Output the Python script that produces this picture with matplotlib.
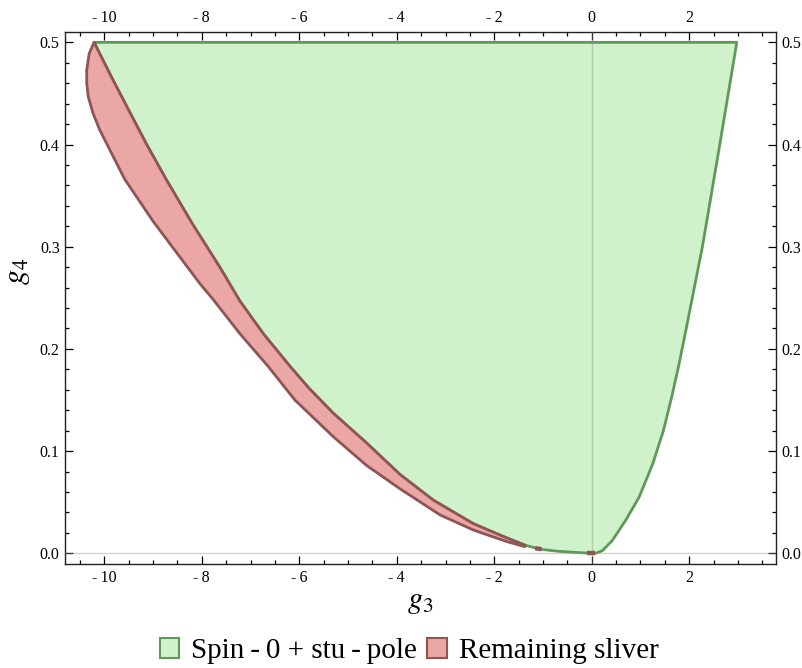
import matplotlib
matplotlib.use("Agg")
import matplotlib.pyplot as plt
from matplotlib.patches import Patch
from matplotlib.ticker import MultipleLocator, FuncFormatter
import numpy as np

# boundary of the green region on the left (tip -> origin)
inner_g3 = [-10.21, -9.82, -9.47, -9.13, -8.72, -8.20, -7.63, -7.22, -6.74, -6.19,
            -5.81, -5.30, -4.62, -3.93, -3.25, -2.43, -1.74, -1.37, -1.06, -0.70,
            -0.38, 0.0]
inner_g4 = [0.500, 0.463, 0.431, 0.400, 0.365, 0.323, 0.280, 0.247, 0.215, 0.183,
            0.162, 0.137, 0.108, 0.077, 0.052, 0.029, 0.015, 0.008, 0.004, 0.002,
            0.001, 0.0]

# right boundary of the green region (origin -> top)
right_g3 = [0.0, 0.08, 0.22, 0.42, 0.70, 0.97, 1.25, 1.47, 1.64, 1.79, 1.93,
            2.27, 2.63, 2.975]
right_g4 = [0.0, 0.0, 0.0026, 0.0124, 0.0326, 0.0548, 0.0874, 0.120, 0.153,
            0.185, 0.218, 0.300, 0.401, 0.500]

# outer edge of the red sliver (tip -> pinch)
outer_g3 = [-10.21, -10.31, -10.36, -10.36, -10.33, -10.23, -10.09, -9.92, -9.75,
            -9.58, -9.00, -8.45, -8.04, -7.76, -7.22, -6.64, -6.09, -5.30, -4.62,
            -3.93, -3.11, -2.43, -1.74, -1.37]
outer_g4 = [0.500, 0.489, 0.473, 0.460, 0.447, 0.4305, 0.414, 0.398, 0.382,
            0.366, 0.325, 0.290, 0.264, 0.248, 0.215, 0.183, 0.150, 0.114, 0.086,
            0.063, 0.0375, 0.0228, 0.0114, 0.0065]

# tiny red bits left on the lower green edge
bit1_g3 = [-1.16, -1.03]
bit1_g4 = [0.0050, 0.0040]
bit2_g3 = [-0.10, 0.07]
bit2_g4 = [0.0, 0.0]

labels = ["Spin\u2009-\u20090 + stu\u2009-\u2009pole", "Remaining sliver"]

green_fc = "#cff2ca"
green_ec = "#5f995a"
red_fc = "#eba6a6"
red_ec = "#8f5454"

plt.rcParams["font.family"] = ["Liberation Serif", "DejaVu Serif"]
plt.rcParams["mathtext.fontset"] = "stix"
plt.rcParams["axes.unicode_minus"] = False

fig = plt.figure(figsize=(8.02, 6.68), dpi=100)
ax = fig.add_axes([0.0814, 0.1552, 0.8862, 0.7973])

# green region: inner curve down to origin, right curve up, closes along g4=0.5
gx = inner_g3 + right_g3[1:]
gy = inner_g4 + right_g4[1:]
ax.fill(gx, gy, facecolor=green_fc, edgecolor=green_ec, lw=2.0, zorder=2,
        joinstyle="round")

# red sliver: inner curve down to the pinch, back up along outer curve
k = inner_g3.index(-1.37) + 1
rx = inner_g3[:k] + outer_g3[::-1]
ry = inner_g4[:k] + outer_g4[::-1]
ax.fill(rx, ry, facecolor=red_fc, edgecolor=red_ec, lw=2.0, zorder=4,
        joinstyle="round")

ax.plot(bit1_g3, bit1_g4, color=red_ec, lw=3.2, solid_capstyle="butt", zorder=5)
ax.plot(bit2_g3, bit2_g4, color=red_ec, lw=3.2, solid_capstyle="butt", zorder=5)

# light zero lines
ax.axhline(0, color="0.55", alpha=0.4, lw=1.0, zorder=3)
ax.axvline(0, color="0.55", alpha=0.4, lw=1.0, zorder=3)

ax.set_xlim(-10.80, 3.78)
ax.set_ylim(-0.0108, 0.5104)

ax.xaxis.set_major_locator(MultipleLocator(2))
ax.xaxis.set_minor_locator(MultipleLocator(0.5))
ax.yaxis.set_major_locator(MultipleLocator(0.1))
ax.yaxis.set_minor_locator(MultipleLocator(0.02))

def fmt_x(v, pos):
    if v < 0:
        return "-\u2009%d" % round(abs(v))
    return "%d" % round(v)

ax.xaxis.set_major_formatter(FuncFormatter(fmt_x))
ax.yaxis.set_major_formatter(FuncFormatter(lambda v, p: "%.1f" % abs(v)))

ax.tick_params(which="both", direction="in", top=True, right=True,
               labeltop=True, labelright=True, labelsize=11.5, colors="black",
               width=0.9)
ax.tick_params(which="major", length=5.5, pad=4)
ax.tick_params(which="minor", length=3)
for s in ax.spines.values():
    s.set_linewidth(1.0)
    s.set_color("#222222")

ax.set_xlabel("$g_3$", fontsize=22, labelpad=1)
ax.set_ylabel("$g_4$", fontsize=22)
ax.yaxis.set_label_coords(-0.047, 0.55)

handles = [Patch(facecolor=green_fc, edgecolor=green_ec, lw=1.5),
           Patch(facecolor=red_fc, edgecolor=red_ec, lw=1.5)]
fig.legend(handles, labels, loc="center", bbox_to_anchor=(409 / 802, 1 - 651 / 668),
           ncol=2, frameon=False, fontsize=21, handlelength=0.68, handleheight=0.68,
           handletextpad=0.4, columnspacing=0.35, borderaxespad=0)

fig.savefig("out.png", dpi=100)
